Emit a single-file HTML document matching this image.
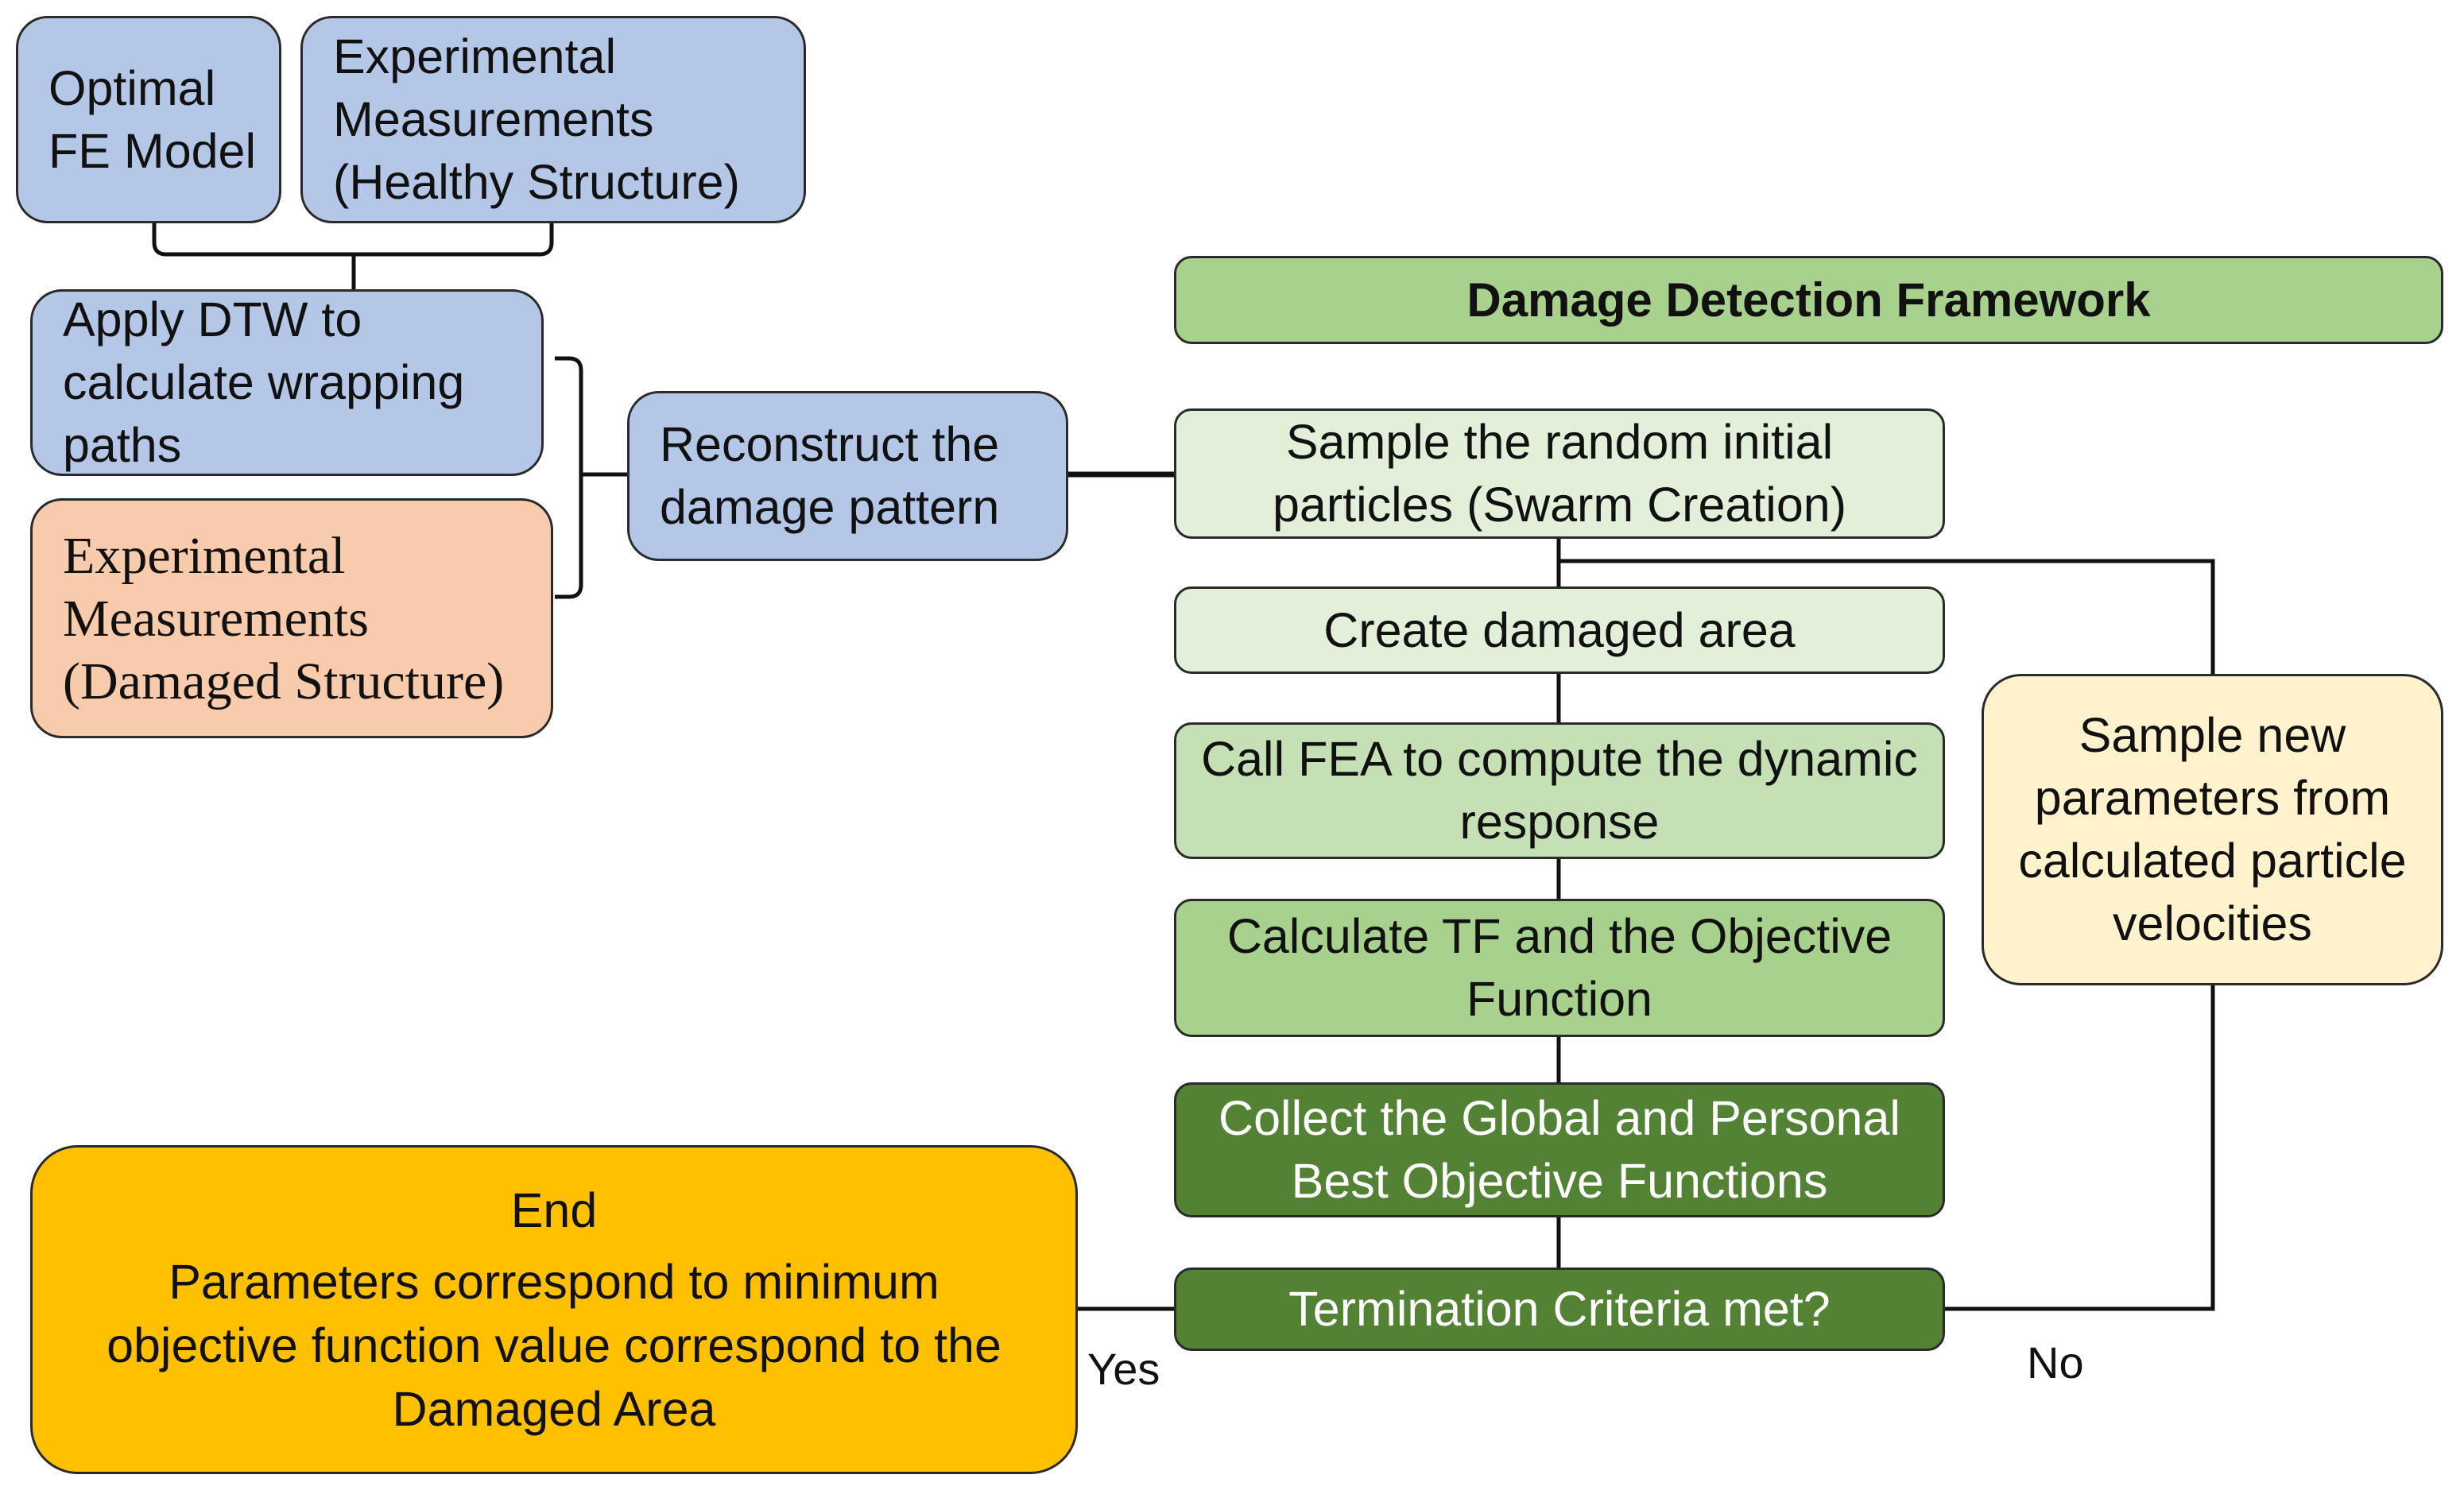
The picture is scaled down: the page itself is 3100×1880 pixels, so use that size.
<!DOCTYPE html>
<html><head><meta charset="utf-8"><style>
body{margin:0;width:3100px;height:1880px;background:#fff;position:relative;overflow:hidden;font-family:"Liberation Sans",sans-serif;}
.b{position:absolute;box-sizing:border-box;border:3px solid #2a2a2a;display:flex;flex-direction:column;justify-content:center;font-size:61px;line-height:79px;color:#111;letter-spacing:0px;white-space:nowrap;}
.c{align-items:center;text-align:center;}
.l{align-items:flex-start;text-align:left;padding-left:38px;}
.blue{background:#B4C7E7;border-radius:40px;}
.g{border-radius:22px;}
.t{position:absolute;font-size:56px;color:#111;}
</style></head><body>
<svg width="3100" height="1880" style="position:absolute;left:0;top:0">
<g fill="none" stroke="#111" stroke-width="5">
<path d="M194 281 V305 Q194 320 209 320 H679 Q694 320 694 305 V281"/>
<line x1="445" y1="320" x2="445" y2="364"/>
<path d="M698 451 H716 Q731 451 731 466 V736 Q731 751 716 751 H698"/>
<line x1="731" y1="597" x2="789" y2="597"/>
<line x1="1344" y1="597" x2="1477" y2="597" stroke-width="7"/>
<line x1="1961" y1="678" x2="1961" y2="1595"/>
<polyline points="1961,706 2784,706 2784,848"/>
<polyline points="2784,1240 2784,1647 2447,1647"/>
<line x1="1356" y1="1647" x2="1477" y2="1647"/>
</g></svg>
<div class="b l blue" style="left:20px;top:20px;width:334px;height:261px;">Optimal<br>FE Model</div>
<div class="b l blue" style="left:378px;top:20px;width:636px;height:261px;">Experimental<br>Measurements<br>(Healthy Structure)</div>
<div class="b l blue" style="left:38px;top:364px;width:646px;height:235px;">Apply DTW to<br>calculate wrapping<br>paths</div>
<div class="b l" style="left:38px;top:627px;width:658px;height:302px;background:#F8CBAD;border-radius:40px;font-family:'Liberation Serif',serif;font-size:66px;">Experimental<br>Measurements<br>(Damaged Structure)</div>
<div class="b l blue" style="left:789px;top:492px;width:555px;height:214px;">Reconstruct the<br>damage pattern</div>
<div class="b c g" style="left:1477px;top:322px;width:1597px;height:111px;background:#A9D18E;font-weight:bold;font-size:60px;">Damage Detection Framework</div>
<div class="b c g" style="left:1477px;top:514px;width:970px;height:164px;background:#E2F0D9;">Sample the random initial<br>particles (Swarm Creation)</div>
<div class="b c g" style="left:1477px;top:738px;width:970px;height:110px;background:#E2F0D9;">Create damaged area</div>
<div class="b c g" style="left:1477px;top:909px;width:970px;height:172px;background:#C5E0B4;">Call FEA to compute the dynamic<br>response</div>
<div class="b c g" style="left:1477px;top:1131px;width:970px;height:174px;background:#A9D18E;">Calculate TF and the Objective<br>Function</div>
<div class="b c g" style="left:1477px;top:1362px;width:970px;height:170px;background:#548235;color:#fff;">Collect the Global and Personal<br>Best Objective Functions</div>
<div class="b c g" style="left:1477px;top:1595px;width:970px;height:105px;background:#548235;color:#fff;">Termination Criteria met?</div>
<div class="b c" style="left:2493px;top:848px;width:581px;height:392px;background:#FFF2CC;border-radius:50px;">Sample new<br>parameters from<br>calculated particle<br>velocities</div>
<div class="b c" style="left:38px;top:1441px;width:1318px;height:414px;background:#FFC000;border-radius:60px;line-height:80px;">End<br><span style="display:block;height:10px"></span>Parameters correspond to minimum<br>objective function value correspond to the<br>Damaged Area</div>
<div class="t" style="left:1368px;top:1690px;">Yes</div>
<div class="t" style="left:2550px;top:1682px;">No</div>
</body></html>
